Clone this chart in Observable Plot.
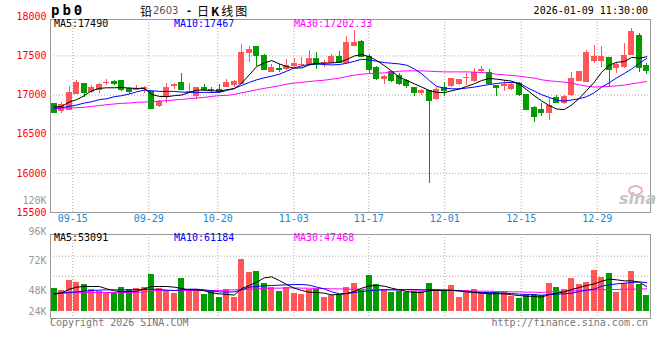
<!DOCTYPE html>
<html><head><meta charset="utf-8">
<script src="https://cdn.jsdelivr.net/npm/d3@7"></script>
<script src="https://cdn.jsdelivr.net/npm/@observablehq/plot@0.6"></script>
<style>
body{margin:0;background:#fff;}
#wrap{position:relative;width:660px;height:360px;overflow:hidden;background:#fff;font-family:"DejaVu Sans Mono",monospace;font-size:10px;}
.t{position:absolute;white-space:nowrap;line-height:10px;font-family:"DejaVu Sans Mono",monospace;font-size:10px;}
.cj{position:absolute;white-space:nowrap;font-family:"Noto Sans CJK SC";font-size:12px;line-height:12px;color:#000;top:5px;}
#top,#bot{position:absolute;left:0;}
#top{top:0px;}
#bot{top:190px;}
</style></head>
<body><div id="wrap">
<div id="top"></div><div id="bot"></div>
<div class="t" style="left:51px;top:4px;font-size:14px;line-height:12px;font-weight:bold;letter-spacing:3px;color:#000;">pb0</div>
<div class="cj" style="left:140px;">铅</div>
<div class="t" style="left:153px;top:6px;font-family:'DejaVu Sans';color:#555;">2603</div>
<div class="t" style="left:186px;top:6px;font-weight:bold;color:#000;">-</div>
<div class="cj" style="left:197px;letter-spacing:2px;">日<b>K</b>线图</div>
<div class="t" style="right:12px;top:6px;color:#000;">2026-01-09 11:30:00</div>
<div class="t" style="left:54px;top:19px;color:#000;">MA5:17490</div>
<div class="t" style="left:174px;top:19px;color:#0000ff;">MA10:17467</div>
<div class="t" style="left:294px;top:19px;color:#ff00ff;">MA30:17202.33</div>
<div class="t" style="left:54px;top:233px;color:#000;">MA5:53091</div>
<div class="t" style="left:174px;top:233px;color:#0000ff;">MA10:61184</div>
<div class="t" style="left:294px;top:233px;color:#ff00ff;">MA30:47468</div>
<div class="t" style="left:50px;top:318px;color:#777;">Copyright 2026 SINA.COM</div>
<div class="t" style="right:12px;top:318px;color:#777;">http://finance.sina.com.cn</div>
<div style="position:absolute;left:628px;top:185px;width:11px;height:7px;border:2px solid #f3b0b0;border-radius:50%;"></div>
<div class="t" style="left:619px;top:191px;font-family:'DejaVu Sans';font-weight:bold;font-style:italic;font-size:16px;line-height:16px;color:#c4c4c4;">sina</div>
</div>
<script>
// ---- candles (index 0..79) ----
const opens  = [16880,16795,16815,17015,17135,17040,17070,17155,17165,17175,
                17075,17070,17075,17045,16855,16975,17120,17150,17035,16990,
                17095,17070,17060,17100,17125,17145,17535,17620,17505,17290,
                17330,17330,17365,17385,17400,17455,17405,17410,17490,17410,
                17630,17675,17490,17345,17205,17290,17245,17180,17095,17020,
                17050,16955,17085,17115,17135,17215,17175,17310,17285,17110,
                17120,17080,17145,16995,16830,16815,16770,16960,16900,17005,
                17185,17165,17430,17440,17475,17345,17355,17515,17760,17365];
const highs  = [16890,16905,17110,17185,17140,17120,17150,17195,17185,17175,
                17100,17125,17110,17050,16925,17145,17150,17280,17145,17100,
                17135,17095,17135,17195,17185,17645,17620,17620,17515,17390,
                17390,17450,17465,17475,17565,17540,17440,17515,17550,17745,
                17825,17700,17515,17365,17245,17295,17270,17205,17095,17065,
                17055,17095,17155,17205,17205,17270,17345,17370,17325,17110,
                17185,17165,17165,16995,16855,16890,16975,16995,16995,17290,
                17305,17565,17635,17625,17480,17415,17660,17850,17785,17405];
const lows   = [16765,16770,16805,17010,16975,17025,17025,17125,17125,17050,
                17010,17060,17015,16815,16845,16890,17070,17060,17015,16940,
                17050,17015,17015,17095,17100,17135,17420,17370,17320,17285,
                17290,17320,17355,17365,17380,17330,17355,17400,17400,17400,
                17630,17480,17280,17185,17135,17165,17120,17090,16985,17000,
                15865,16925,16985,17100,17125,17125,17165,17270,17135,16985,
                17050,17060,16985,16805,16655,16720,16680,16890,16880,16985,
                17180,17165,17400,17355,17115,17280,17345,17505,17290,17260];
const closes = [16770,16875,17025,17150,17025,17090,17125,17160,17145,17070,
                17040,17075,17095,16825,16915,17095,17125,17070,17045,17095,
                17070,17060,17045,17150,17165,17540,17580,17495,17325,17340,
                17325,17370,17400,17390,17455,17385,17410,17490,17410,17660,
                17660,17480,17320,17205,17235,17185,17135,17120,17025,17055,
                16930,17070,17050,17200,17195,17220,17280,17315,17145,17095,
                17125,17125,17000,16815,16720,16765,16865,16900,16975,17205,
                17295,17540,17480,17490,17325,17380,17505,17805,17345,17305];
const volumes = [48900,44700,65900,61700,57400,46100,42500,40400,40400,51000,
                 46100,48900,51000,78700,48900,42500,39000,70200,46100,46100,
                 36200,44700,29800,46800,29800,110600,83000,85100,59600,50300,
                 42500,51000,38300,36200,47500,46800,29800,34700,34700,51000,
                 59600,44700,76600,57400,46800,40400,42500,40400,42500,42500,
                 59600,46800,44700,55300,29800,44700,46800,40400,38300,40400,
                 40400,31900,27700,34000,36200,34000,59600,51000,46800,70200,
                 57400,61700,87200,72300,80800,40400,59600,85100,57400,34000];
// ---- moving averages as drawn ----
const ma5  = [16848,16856,16911,16941,16992,17055,17085,17093,17093,17097,
              17089,17085,17085,17008,16983,16979,16992,17000,17034,17063,
              17063,17055,17051,17068,17080,17152,17258,17364,17410,17440,
              17398,17364,17343,17347,17385,17406,17406,17410,17419,17453,
              17499,17516,17491,17440,17376,17305,17228,17186,17144,17102,
              17059,17034,17030,17055,17076,17110,17144,17186,17212,17203,
              17190,17178,17140,17068,16992,16924,16865,16822,16814,16873,
              16958,17059,17165,17292,17381,17419,17427,17482,17470,17490];
const ma10 = [16831,16839,16856,16873,16898,16915,16941,16953,16979,16992,
              17013,17042,17063,17055,17047,17047,17047,17038,17034,17034,
              17034,17034,17034,17059,17085,17123,17161,17195,17220,17241,
              17266,17305,17347,17372,17393,17398,17389,17385,17389,17406,
              17431,17457,17448,17431,17415,17406,17398,17381,17334,17271,
              17186,17110,17089,17080,17080,17089,17102,17118,17135,17148,
              17157,17161,17152,17097,17051,17004,16970,16932,16924,16937,
              16953,16979,17030,17102,17157,17220,17275,17334,17406,17467];
const ma30 = [16827,16831,16835,16839,16843,16856,16865,16877,16886,16894,
              16898,16907,16911,16915,16924,16928,16937,16945,16953,16962,
              16970,16983,16992,16996,17008,17030,17047,17068,17085,17102,
              17118,17140,17152,17161,17173,17182,17190,17203,17216,17237,
              17254,17266,17275,17279,17283,17292,17305,17309,17309,17309,
              17305,17300,17296,17296,17296,17296,17292,17288,17279,17266,
              17258,17250,17241,17228,17216,17195,17182,17173,17165,17152,
              17131,17114,17102,17106,17110,17118,17127,17144,17157,17173];
const vma5  = [36900,39700,47500,51800,53200,53200,53200,48200,44000,41800,
               42500,43200,48200,53200,53200,53200,51800,48900,46100,46100,
               44000,39700,37600,36200,35000,48900,55300,62400,71600,73700,
               65900,57400,49600,44700,41100,40400,39000,35500,36200,38300,
               42500,49600,54600,55300,53900,49600,46100,42500,40400,40400,
               44700,44700,44700,45400,44000,41800,40400,39000,37600,37600,
               37600,35500,34000,32600,31900,30500,36200,39000,41800,46800,
               51000,55300,58800,64500,68800,67400,65200,65200,62400,53100];
const vma10 = [38300,39700,40400,41800,43200,44700,45400,46100,46100,46100,
               46100,46800,46800,47500,46800,45400,44700,46100,47500,47500,
               46100,44000,41800,41100,41800,46100,51800,53200,54600,55300,
               56000,56700,57400,57400,56000,51800,48200,41800,37600,38300,
               40400,42500,44000,45400,46100,46100,46100,46800,46800,46100,
               46800,46100,46100,44700,44000,42500,41100,40400,40400,39700,
               39000,38300,36900,36200,35500,34700,36200,36900,37600,39000,
               42500,45400,47500,53900,56700,58800,60300,61700,63100,61200];
const vma30 = [37600,38300,39700,40400,40400,40400,40400,40400,40400,40400,
               40400,40400,41800,44000,44700,44700,44700,44700,44700,44700,
               44700,44700,44700,45400,46100,46800,47500,48200,48900,49600,
               49600,50300,50300,49600,49600,48900,48900,48200,48200,47500,
               47500,47500,46800,46800,46100,46100,46100,46100,45400,45400,
               45400,44700,44700,44700,44000,44000,43200,43200,43200,42500,
               42500,41800,41800,41100,41100,40400,41800,42500,43200,44000,
               44700,45400,46100,46100,46800,46800,47500,47500,47500,48200];
// ---- axes / ticks ----
const tickLabels = ["09-15","09-29","10-20","11-03","11-17","12-01","12-15","12-29"];
const tickPos    = [2.47, 12.61, 21.81, 31.94, 41.94, 52.07, 62.26, 72.39]; // read on candle index axis
const priceTicks = [18000,17500,17000,16500,16000,15500];
const priceGrid  = [17500,17000,16500,16000];
const volLabels  = ["120K","96K","72K","48K","24K"];
const volLabelAt = [234700,170200,107000,43200,0];   // where each label sits on the volume scale
const volGrid    = [117660,75110];

const RED = "#ff5757", GREEN = "#009c00", BLUE = "#1687d6", MONO = "DejaVu Sans Mono";
const GRID = "#aaaaaa", FRAME = "#999999";

const bars = d3.range(opens.length).map(i => ({i, o: opens[i], h: highs[i], l: lows[i], c: closes[i], v: volumes[i]}));
const up = bars.filter(d => d.c >= d.o), dn = bars.filter(d => d.c < d.o);
const series = arr => arr.map((v, i) => ({i, v}));
const maLine = (arr, color) => Plot.line(series(arr), {x: "i", y: "v", stroke: color, strokeWidth: 1});

const xDomain = [-0.5, 79.5];

const candleMarks = (set, color) => [
  Plot.ruleX(set, {x: "i", y1: "l", y2: "h", stroke: color, strokeWidth: 1, shapeRendering: "crispEdges"}),
  Plot.rect(set, {x1: d => d.i - 0.32, x2: d => d.i + 0.32, y1: "o", y2: "c", fill: color, stroke: color, strokeWidth: 1, shapeRendering: "crispEdges"})
];

const topChart = Plot.plot({
  width: 660, height: 232,
  marginLeft: 50, marginRight: 10, marginTop: 19, marginBottom: 20,
  x: {domain: xDomain, axis: null},
  y: {domain: [15500, 17965], axis: null},
  style: {background: "transparent", overflow: "visible"},
  marks: [
    Plot.ruleY(priceGrid, {stroke: GRID, strokeDasharray: "1,2"}),
    Plot.ruleX(tickPos, {stroke: GRID, strokeDasharray: "1,2"}),
    ...candleMarks(up, RED),
    ...candleMarks(dn, GREEN),
    maLine(ma30, "#ff00ff"),
    maLine(ma10, "#0000ff"),
    maLine(ma5, "#000000"),
    Plot.frame({stroke: FRAME}),
    Plot.text(priceTicks, {y: d => d, text: d => String(d), frameAnchor: "left", textAnchor: "end", dx: -4, fill: "#ff0000", fontSize: 10, fontFamily: MONO}),
    Plot.text(tickLabels, {x: (d, i) => tickPos[i], text: d => d, frameAnchor: "bottom", dy: 9.5, fill: BLUE, fontSize: 10, fontFamily: MONO})
  ]
});
document.getElementById("top").appendChild(topChart);

const botChart = Plot.plot({
  width: 660, height: 170,
  marginLeft: 50, marginRight: 10, marginTop: 44, marginBottom: 42,
  x: {domain: xDomain, axis: null},
  y: {domain: [-14900, 163830], axis: null},
  style: {background: "transparent", overflow: "visible"},
  marks: [
    Plot.ruleY(volGrid, {stroke: GRID, strokeDasharray: "1,2"}),
    Plot.ruleX(tickPos, {stroke: GRID, strokeDasharray: "1,2"}),
    Plot.rect(up, {x1: d => d.i - 0.38, x2: d => d.i + 0.38, y1: 0, y2: "v", fill: RED, shapeRendering: "crispEdges"}),
    Plot.rect(dn, {x1: d => d.i - 0.38, x2: d => d.i + 0.38, y1: 0, y2: "v", fill: GREEN, shapeRendering: "crispEdges"}),
    maLine(vma30, "#ff00ff"),
    maLine(vma10, "#0000ff"),
    maLine(vma5, "#000000"),
    Plot.frame({stroke: FRAME}),
    Plot.text(volLabels, {y: (d, i) => volLabelAt[i], text: d => d, frameAnchor: "left", textAnchor: "end", dx: -4, fill: "#999999", fontSize: 10, fontFamily: MONO})
  ]
});
document.getElementById("bot").appendChild(botChart);
</script>
</body></html>
